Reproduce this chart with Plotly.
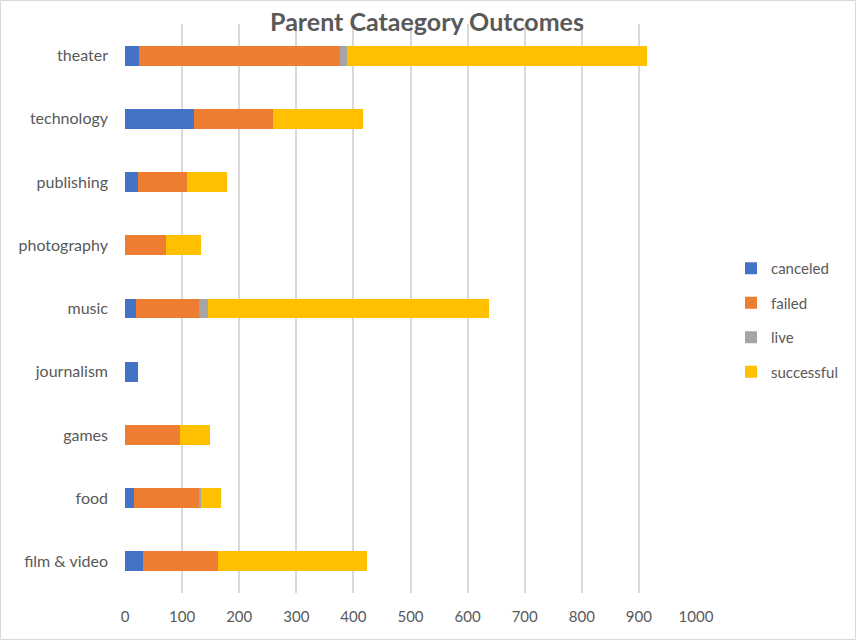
import plotly.graph_objects as go

categories = ["film & video", "food", "games", "journalism", "music",
              "photography", "publishing", "technology", "theater"]
canceled = [32, 16, 0, 23, 19, 0, 23, 121, 25]
failed = [130, 114, 97, 0, 111, 72, 86, 138, 351]
live = [0, 3, 0, 0, 16, 0, 0, 0, 12]
successful = [261, 35, 51, 0, 491, 61, 70, 158, 526]
x_ticks = [0, 100, 200, 300, 400, 500, 600, 700, 800, 900, 1000]

series = [("canceled", canceled, "#4472C4"),
          ("failed", failed, "#ED7D31"),
          ("live", live, "#A5A5A5"),
          ("successful", successful, "#FFC000")]

fig = go.Figure()
for name, vals, col in series:
    fig.add_trace(go.Bar(y=categories, x=vals, name=name, orientation="h",
                         marker=dict(color=col, line=dict(width=0)),
                         legendgroup=name))

W, H = 856, 640
L, R, T, B = 125, 160, 24, 47
pw = W - L - R
ph = H - T - B

fig.update_layout(
    width=W, height=H,
    barmode="stack", bargap=0.684,
    plot_bgcolor="white", paper_bgcolor="white",
    margin=dict(l=L, r=R, t=T, b=B, autoexpand=False),
    font=dict(family="Lato, Open Sans, sans-serif", size=15, color="#595959"),
    title=dict(text="<b>Parent Cataegory Outcomes</b>", x=427 / W, xanchor="center",
               y=1 - 22 / H, yanchor="middle",
               font=dict(size=25, color="#595959")),
    xaxis=dict(range=[0, 1000], tickvals=x_ticks, showgrid=True,
               gridcolor="#D9D9D9", gridwidth=1.5, zeroline=False,
               showline=False, ticks="", ticklabelstandoff=13,
               automargin=False,
               tickfont=dict(size=15, color="#595959")),
    yaxis=dict(categoryorder="array", categoryarray=categories,
               showgrid=False, zeroline=False, showline=False, ticks="",
               automargin=False,
               ticklabelstandoff=16, tickfont=dict(size=16, color="#595959")),
    legend=dict(x=(731 - L) / pw, xanchor="left", y=(H - B - 320) / ph,
                yanchor="middle", tracegroupgap=12,
                font=dict(size=15, color="#595959"), itemwidth=30),
    showlegend=True,
    shapes=[dict(type="rect", xref="paper", yref="paper",
                 x0=(0.5 - L) / pw, x1=(W - 0.5 - L) / pw,
                 y0=(-B + 0.5) / ph, y1=(ph + T - 0.5) / ph,
                 line=dict(color="#D9D9D9", width=1), layer="below")],
)

fig.write_html("out.html", config={"displayModeBar": False},
               post_script="document.body.style.margin='0';document.body.style.overflow='hidden';")
